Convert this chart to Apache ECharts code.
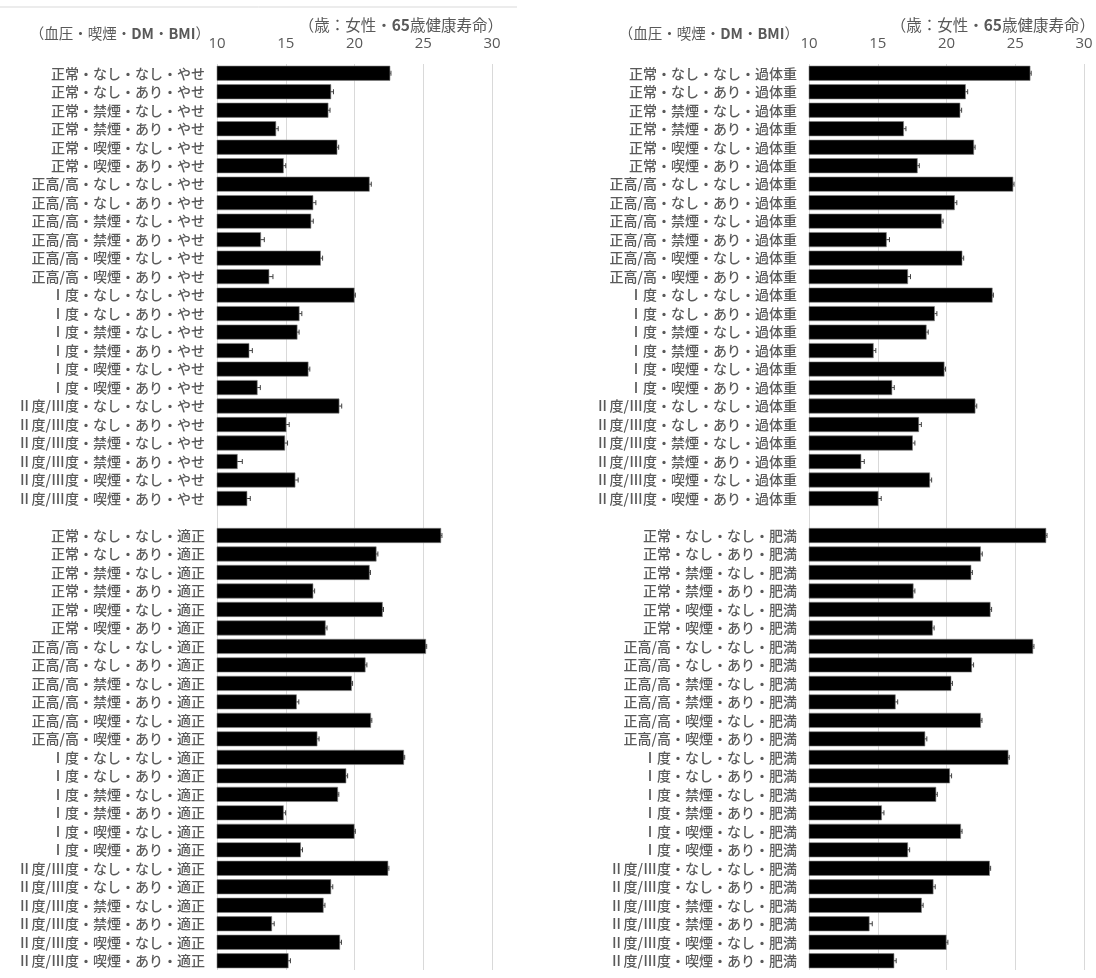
<!DOCTYPE html>
<html>
<head>
<meta charset="utf-8">
<script src="https://cdn.jsdelivr.net/npm/echarts@6/dist/echarts.min.js"></script>
<style>
  html, body { margin: 0; padding: 0; background: #fff; }
  #chart { width: 1096px; height: 978px; }
</style>
</head>
<body>
<div id="chart"></div>
<script>
// 区分 (血圧・喫煙・DM)
var bpList = ['正常', '正高/高', 'Ⅰ度', 'Ⅱ度/Ⅲ度'];
var smokeList = ['なし', '禁煙', '喫煙'];
var dmList = ['なし', 'あり'];
var xTicks = [10, 15, 20, 25, 30];

// 65歳健康寿命 (女性) - 左: やせ / 適正, 右: 過体重 / 肥満
var yaseVals = [22.6, 18.3, 18.1, 14.3, 18.75, 14.85, 21.1, 17.0, 16.85, 13.2, 17.55, 13.8,
                20.0, 16.0, 15.85, 12.35, 16.65, 12.95, 18.9, 15.05, 14.95, 11.5, 15.7, 12.2];
var yaseErr  = [0.05, 0.17, 0.12, 0.15, 0.1, 0.15, 0.12, 0.19, 0.15, 0.24, 0.13, 0.27,
                0.06, 0.17, 0.12, 0.22, 0.1, 0.2, 0.17, 0.2, 0.18, 0.34, 0.2, 0.22];
var tekiseiVals = [26.3, 21.6, 21.1, 17.0, 22.05, 17.9, 25.2, 20.8, 19.8, 15.8, 21.2, 17.3,
                   23.6, 19.4, 18.8, 14.85, 20.0, 16.1, 22.45, 18.3, 17.75, 14.0, 18.95, 15.2];
var tekiseiErr  = [0.06, 0.1, 0.06, 0.1, 0.06, 0.1, 0.05, 0.1, 0.06, 0.15, 0.06, 0.12,
                   0.05, 0.1, 0.06, 0.14, 0.06, 0.12, 0.05, 0.12, 0.1, 0.16, 0.1, 0.14];
var kataijuVals = [26.1, 21.4, 21.0, 16.9, 22.0, 17.9, 24.85, 20.6, 19.65, 15.65, 21.15, 17.2,
                   23.35, 19.15, 18.55, 14.7, 19.85, 16.05, 22.1, 18.0, 17.55, 13.8, 18.8, 15.05];
var kataijuErr  = [0.06, 0.14, 0.1, 0.15, 0.08, 0.12, 0.06, 0.15, 0.1, 0.2, 0.1, 0.18,
                   0.06, 0.15, 0.12, 0.16, 0.08, 0.15, 0.1, 0.17, 0.15, 0.22, 0.12, 0.2];
var himanVals = [27.25, 22.5, 21.8, 17.6, 23.2, 19.0, 26.3, 21.85, 20.35, 16.3, 22.5, 18.45,
                 24.5, 20.25, 19.25, 15.3, 21.05, 17.2, 23.15, 19.05, 18.2, 14.4, 20.0, 16.2];
var himanErr  = [0.06, 0.1, 0.08, 0.1, 0.08, 0.1, 0.06, 0.12, 0.08, 0.15, 0.08, 0.12,
                 0.06, 0.12, 0.08, 0.15, 0.08, 0.12, 0.06, 0.13, 0.1, 0.2, 0.1, 0.14];

var labelColor = '#595959';
var jpFont = '"Noto Sans CJK JP", sans-serif';

function makeLabels(bmi) {
    var arr = [];
    bpList.forEach(function(bp) {
        smokeList.forEach(function(sm) {
            dmList.forEach(function(dm) {
                arr.push(bp + '・' + sm + '・' + dm + '・' + bmi);
            });
        });
    });
    return arr;
}

// 上下2群を1本の軸にまとめる (間に空行1つ)
function makeCats(topBmi, bottomBmi) {
    return makeLabels(topBmi).concat(['']).concat(makeLabels(bottomBmi));
}
function makeBarData(topVals, bottomVals) {
    return topVals.concat(['-']).concat(bottomVals);
}
function makeErrData(topVals, topErr, bottomVals, bottomErr) {
    var out = [];
    topVals.forEach(function(v, i) {
        out.push([i, v - topErr[i], v + topErr[i]]);
    });
    bottomVals.forEach(function(v, i) {
        out.push([i + topVals.length + 1, v - bottomErr[i], v + bottomErr[i]]);
    });
    return out;
}

function renderErr(params, api) {
    var y = api.value(0);
    var p1 = api.coord([api.value(1), y]);
    var p2 = api.coord([api.value(2), y]);
    var h = 2.5;
    var st = { stroke: '#404040', lineWidth: 1 };
    return {
        type: 'group',
        children: [
            { type: 'line', shape: { x1: p1[0], y1: p1[1], x2: p2[0], y2: p2[1] }, style: st },
            { type: 'line', shape: { x1: p1[0], y1: p1[1] - h, x2: p1[0], y2: p1[1] + h }, style: st },
            { type: 'line', shape: { x1: p2[0], y1: p2[1] - h, x2: p2[0], y2: p2[1] + h }, style: st }
        ]
    };
}

function xAxisFor(idx) {
    return {
        type: 'value',
        gridIndex: idx,
        position: 'top',
        min: xTicks[0],
        max: xTicks[xTicks.length - 1],
        interval: 5,
        axisLine: { show: false },
        axisTick: { show: false },
        axisLabel: { color: labelColor, fontSize: 15, fontFamily: '"Open Sans", sans-serif', margin: 13 },
        splitLine: { lineStyle: { color: '#d9d9d9', width: 1 } }
    };
}
function yAxisFor(idx, cats) {
    return {
        type: 'category',
        gridIndex: idx,
        inverse: true,
        data: cats,
        axisLine: { show: false },
        axisTick: { show: false },
        axisLabel: { color: labelColor, fontSize: 14, fontFamily: jpFont, fontWeight: 500, margin: 12, interval: 0 }
    };
}

function titleText(x, y, text, size) {
    return {
        type: 'text', x: x, y: y,
        style: {
            text: text,
            rich: {
                a: { fontSize: size, fontFamily: jpFont, fill: labelColor },
                b: { fontSize: size, fontFamily: jpFont, fontWeight: 'bold', fill: labelColor }
            },
            align: 'right', verticalAlign: 'middle',
            fontSize: size, fontFamily: jpFont, fill: labelColor
        }
    };
}

var chart = echarts.init(document.getElementById('chart'));

var option = {
    animation: false,
    backgroundColor: '#fff',
    grid: [
        { left: 217, width: 275, top: 64, height: 906 },
        { left: 809, width: 275, top: 64, height: 906 }
    ],
    xAxis: [xAxisFor(0), xAxisFor(1)],
    yAxis: [yAxisFor(0, makeCats('やせ', '適正')), yAxisFor(1, makeCats('過体重', '肥満'))],
    graphic: [
        { type: 'line', shape: { x1: 0, y1: 7, x2: 517, y2: 7 }, style: { stroke: '#d9d9d9', lineWidth: 1 } },
        titleText(210, 33, '{a|（血圧・喫煙・}{b|DM}{a|・}{b|BMI}{a|）}', 14.5),
        titleText(503, 25, '{a|（歳：女性・}{b|65}{a|歳健康寿命）}', 15.5),
        titleText(799, 33, '{a|（血圧・喫煙・}{b|DM}{a|・}{b|BMI}{a|）}', 14.5),
        titleText(1095, 25, '{a|（歳：女性・}{b|65}{a|歳健康寿命）}', 15.5)
    ],
    series: [
        {
            type: 'bar', xAxisIndex: 0, yAxisIndex: 0, z: 3,
            barCategoryGap: '19%',
            itemStyle: { color: '#000', borderColor: '#7f7f7f', borderWidth: 0.6 },
            data: makeBarData(yaseVals, tekiseiVals)
        },
        {
            type: 'custom', xAxisIndex: 0, yAxisIndex: 0, z: 2,
            renderItem: renderErr,
            encode: { x: [1, 2], y: 0 },
            data: makeErrData(yaseVals, yaseErr, tekiseiVals, tekiseiErr)
        },
        {
            type: 'bar', xAxisIndex: 1, yAxisIndex: 1, z: 3,
            barCategoryGap: '19%',
            itemStyle: { color: '#000', borderColor: '#7f7f7f', borderWidth: 0.6 },
            data: makeBarData(kataijuVals, himanVals)
        },
        {
            type: 'custom', xAxisIndex: 1, yAxisIndex: 1, z: 2,
            renderItem: renderErr,
            encode: { x: [1, 2], y: 0 },
            data: makeErrData(kataijuVals, kataijuErr, himanVals, himanErr)
        }
    ]
};

chart.setOption(option);
</script>
</body>
</html>
